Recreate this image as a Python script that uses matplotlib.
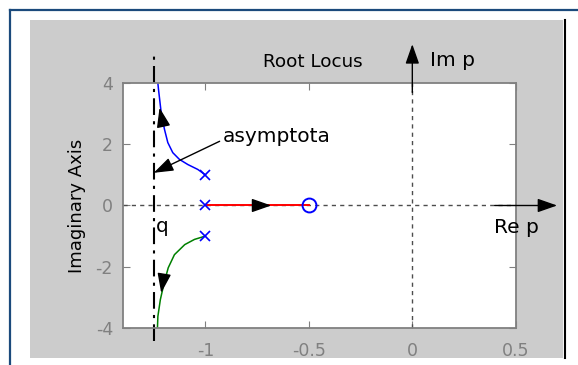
import matplotlib
matplotlib.use("Agg")
import matplotlib.pyplot as plt
from matplotlib.lines import Line2D
from matplotlib.patches import Rectangle

plt.rcParams["axes.unicode_minus"] = False

# poles (x) and zero (o) of the open loop
pole_re = [-1.0, -1.0, -1.0]
pole_im = [1.0, 0.0, -1.0]
zero_re = [-0.5]
zero_im = [0.0]

# branches
upper_re = [-1.0, -1.037, -1.085, -1.126, -1.158, -1.182, -1.198, -1.214, -1.227, -1.230]
upper_im = [1.0, 1.18, 1.34, 1.51, 1.73, 2.06, 2.49, 3.04, 3.80, 4.0]
lower_re = [-1.0, -1.053, -1.10, -1.15, -1.18, -1.20, -1.218, -1.23, -1.232]
lower_im = [-1.0, -1.11, -1.28, -1.61, -2.04, -2.54, -3.08, -3.63, -4.0]
real_re = [-1.0, -0.5]
real_im = [0.0, 0.0]

asym_re = -1.25
xticks = [-1, -0.5, 0, 0.5]
yticks = [-4, -2, 0, 2, 4]

fig = plt.figure(figsize=(5.78, 3.65), dpi=100)
fig.patch.set_facecolor("white")

# gray panel + page frame
fig.add_artist(Rectangle((30 / 578, 1 - 358 / 365), 533 / 578, 338 / 365,
                         transform=fig.transFigure, facecolor="#cccccc", edgecolor="none", zorder=0))
fig.add_artist(Line2D([564.5 / 578, 564.5 / 578], [1 - 358 / 365, 1 - 20 / 365],
                      transform=fig.transFigure, color="black", lw=1.5))
fig.add_artist(Line2D([10 / 578, 10 / 578], [0, 1 - 9.5 / 365],
                      transform=fig.transFigure, color="#1b4a7c", lw=1.6))
fig.add_artist(Line2D([10 / 578, 1], [1 - 9.5 / 365, 1 - 9.5 / 365],
                      transform=fig.transFigure, color="#1b4a7c", lw=1.6))

ax = fig.add_axes([0.2123, 0.1022, 0.68, 0.6696])
ax.set_facecolor("white")
ax.set_xlim(-1.4, 0.5)
ax.set_ylim(-4, 4)

# axes through origin
ax.plot([-1.4, 0.5], [0, 0], color="0.3", lw=1, ls=(0, (3, 3)))
ax.plot([0, 0], [-4, 4], color="0.3", lw=1, ls=(0, (3, 3)))

# asymptote
ax.plot([asym_re, asym_re], [-4.45, 4.95], color="black", lw=1.5,
        ls=(0, (8, 3, 1.5, 3)), clip_on=False)

# branches
ax.plot(upper_re, upper_im, color="blue", lw=1.1)
ax.plot(lower_re, lower_im, color="green", lw=1.1)
ax.plot(real_re, real_im, color="red", lw=1.4)
ax.plot(pole_re, pole_im, "x", color="blue", ms=7, mew=1.2)
ax.plot(zero_re, zero_im, "o", mfc="none", mec="blue", ms=10, mew=1.4)

head = dict(arrowstyle="-|>,head_length=0.6,head_width=0.21", mutation_scale=20,
            color="black", lw=1, shrinkA=0, shrinkB=0)
ax.annotate("", xy=(-0.682, 0), xytext=(-0.76, 0), arrowprops=head)
ax.annotate("", xy=(-1.222, 3.2), xytext=(-1.205, 2.66), arrowprops=head)
ax.annotate("", xy=(-1.214, -2.86), xytext=(-1.2, -2.27), arrowprops=head)

# Re / Im arrows
ax.annotate("", xy=(0.70, 0), xytext=(0.398, 0), arrowprops=head, annotation_clip=False)
ax.annotate("", xy=(0, 5.28), xytext=(0, 3.7), arrowprops=head, annotation_clip=False)
ax.text(0.087, 4.73, "Im p", fontsize=14.5, va="center", ha="left", clip_on=False)
ax.text(0.397, -0.73, "Re p", fontsize=14.5, va="center", ha="left", clip_on=False)

ax.annotate("asymptota", xy=(-1.25, 1.07), xytext=(-0.918, 2.27), fontsize=14.5,
            va="center", ha="left",
            arrowprops=dict(arrowstyle="-|>,head_length=0.6,head_width=0.21",
                            mutation_scale=20, color="black", lw=1,
                            shrinkA=0, shrinkB=0, relpos=(0, 0.3)))
ax.text(-1.238, -0.68, "q", fontsize=14.5, va="center", ha="left")

ax.set_title("Root Locus", fontsize=13.2, x=0.4835, pad=11.5)
ax.set_ylabel("Imaginary Axis", fontsize=13, labelpad=7)

ax.set_xticks(xticks)
ax.set_xticklabels(["-1", "-0.5", "0", "0.5"])
ax.set_yticks(yticks)
ax.tick_params(direction="in", length=5, color="0.5", labelcolor="0.5",
               labelsize=12.5, top=True, right=True)
ax.tick_params(axis="x", pad=10)
ax.tick_params(axis="y", pad=7)
for s in ax.spines.values():
    s.set_color("0.5")
    s.set_linewidth(1.3)

fig.savefig("out.png", dpi=100)
